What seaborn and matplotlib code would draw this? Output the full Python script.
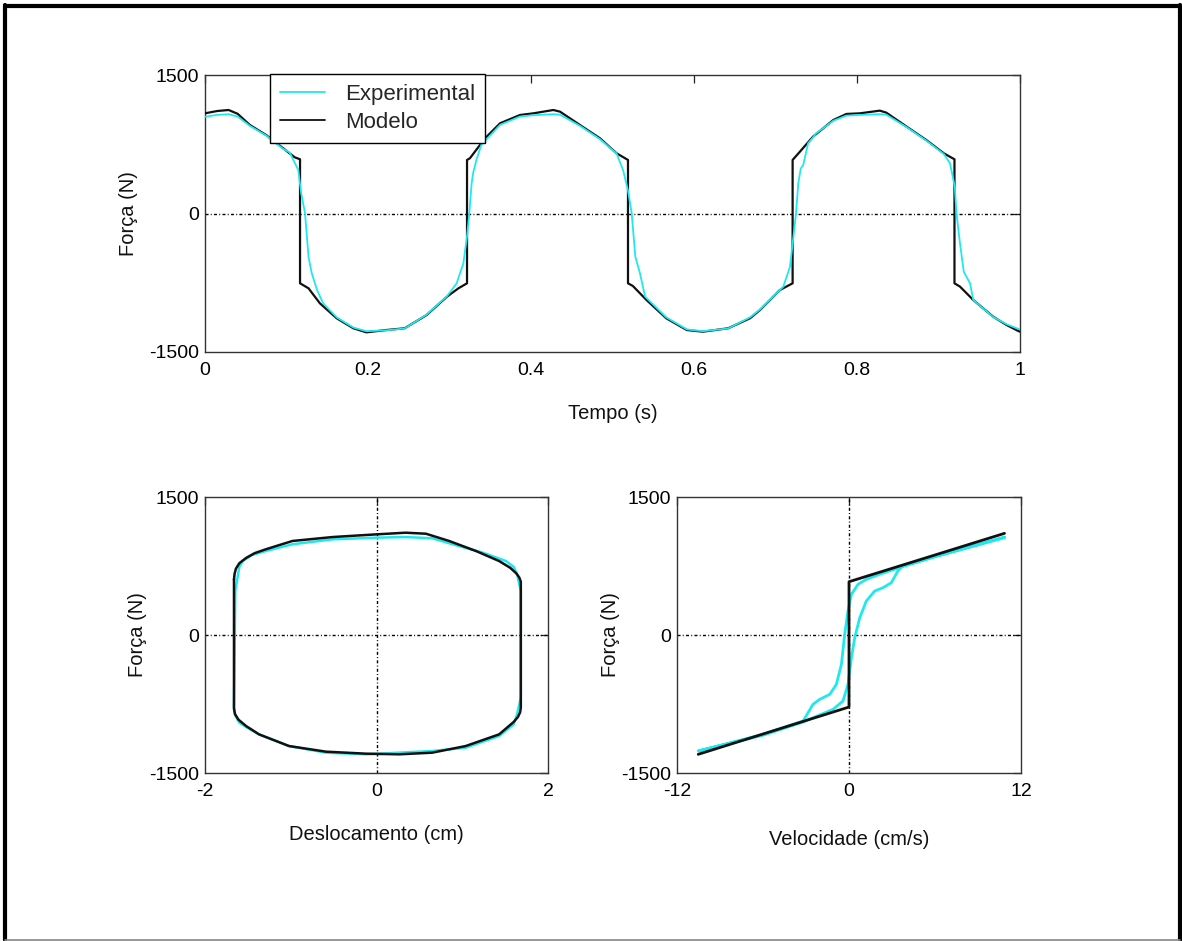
import numpy as np
import pandas as pd
import matplotlib
matplotlib.use("Agg")
import matplotlib.pyplot as plt
from matplotlib.lines import Line2D
import seaborn as sns

# ---------------- data ----------------
# Top: force vs time
t_model = [0.000, 0.015, 0.029, 0.040, 0.055, 0.075, 0.096, 0.110, 0.1166, 0.1166, 0.127, 0.141, 0.1616,
           0.182, 0.198, 0.2226, 0.245, 0.272, 0.297, 0.311, 0.3215, 0.3215, 0.325, 0.3374,
           0.3415, 0.362, 0.3865, 0.403, 0.4274, 0.4356, 0.460, 0.4847, 0.505, 0.519, 0.519,
           0.525, 0.5417, 0.566, 0.5911, 0.611, 0.642, 0.6687, 0.681, 0.7055, 0.721, 0.721,
           0.730, 0.746, 0.771, 0.787, 0.8037, 0.828, 0.836, 0.861, 0.885, 0.9065, 0.9196,
           0.9196, 0.9264, 0.9427, 0.967, 0.9836, 0.998, 1.000]
f_model = [1085, 1110, 1121, 1080, 959, 850, 706, 609, 587, -756, -810, -973, -1135,
           -1243, -1287, -1262, -1243, -1099, -900, -810, -756, 580, 598, 742,
           796, 977, 1067, 1085, 1121, 1103, 959, 814, 652, 580, -756,
           -785, -937, -1135, -1262, -1280, -1243, -1135, -1045, -828, -756, 580,
           670, 832, 1013, 1078, 1085, 1114, 1092, 940, 796, 652, 587,
           -756, -792, -937, -1117, -1208, -1273, -1280]

t_exp = [0.000, 0.015, 0.029, 0.040, 0.055, 0.075, 0.096, 0.104, 0.1145, 0.118, 0.1227, 0.127, 0.131,
         0.1375, 0.145, 0.1616, 0.182, 0.198, 0.2226, 0.245, 0.272, 0.297, 0.3088, 0.317,
         0.3215, 0.3243, 0.3272, 0.329, 0.333, 0.339, 0.362, 0.3865, 0.403, 0.4274, 0.4356,
         0.460, 0.4847, 0.505, 0.513, 0.519, 0.5235, 0.528, 0.5337, 0.540, 0.566, 0.5911,
         0.611, 0.642, 0.6687, 0.681, 0.7096, 0.7178, 0.722, 0.7252, 0.728, 0.731, 0.734,
         0.740, 0.750, 0.771, 0.787, 0.8037, 0.828, 0.836, 0.861, 0.885, 0.9065, 0.9141,
         0.920, 0.922, 0.9264, 0.931, 0.9387, 0.9427, 0.967, 0.9836, 0.998, 1.000]
f_exp = [1048, 1068, 1075, 1050, 950, 845, 700, 660, 470, 220, 5, -467, -648,
         -828, -973, -1125, -1235, -1275, -1265, -1245, -1095, -895, -756, -540,
         -250, 5, 330, 439, 579, 742, 960, 1050, 1065, 1075, 1070,
         950, 805, 650, 470, 250, 5, -467, -648, -900, -1125, -1255,
         -1275, -1245, -1125, -1040, -792, -576, -250, 5, 330, 488, 525,
         760, 868, 1005, 1060, 1068, 1075, 1070, 935, 790, 645, 543,
         290, 5, -325, -630, -756, -937, -1120, -1200, -1250, -1255]

# Bottom-left: force vs displacement loop
d_model = [-1.662, -1.655, -1.64, -1.60, -1.52, -1.42, -1.29, -0.98, -0.51, 0.0, 0.34, 0.576,
           0.847, 1.16, 1.43, 1.56, 1.63, 1.665, 1.683, 1.683, 1.675, 1.65, 1.60, 1.43,
           1.04, 0.65, 0.265, -0.12, -0.59, -1.02, -1.37, -1.52, -1.61, -1.65, -1.662, -1.662]
fd_model = [605, 665, 720, 780, 838, 890, 932, 1022, 1065, 1094, 1112, 1101,
            1022, 913, 804, 730, 670, 625, 580, -790, -840, -890, -945, -1080,
            -1207, -1279, -1297, -1290, -1268, -1207, -1080, -990, -920, -860, -800, 605]

d_exp = [-1.662, -1.647, -1.60, -1.56, -1.45, -1.29, -0.98, -0.51, 0.0, 0.34, 0.65, 0.96,
         1.24, 1.51, 1.60, 1.64, 1.683, 1.683, 1.64, 1.60, 1.43, 1.04, 0.65, 0.265,
         -0.12, -0.59, -1.02, -1.37, -1.52, -1.60, -1.65, -1.662, -1.662]
fd_exp = [-753, 478, 740, 804, 870, 913, 986, 1040, 1058, 1065, 1051, 967,
          895, 804, 740, 660, 478, -681, -860, -971, -1098, -1225, -1261, -1279,
          -1297, -1279, -1207, -1080, -1000, -953, -870, -790, -753]

# Bottom-right: force vs velocity
v_model = [-10.52, 0.0, 0.0, 10.85]
fv_model = [-1297, -783, 579, 1105]

v_exp = [10.85, 6.0, 3.76, 2.14, 1.21, 0.63, 0.17, -0.07, -0.3, -0.53, -0.88, -1.34,
         -2.04, -2.51, -3.2, -6.0, -10.52, -6.0, -3.2, -1.11, -0.42, -0.07, 0.17, 0.4,
         0.75, 1.21, 1.79, 2.37, 2.95, 3.41, 3.76, 6.0, 10.85]
fv_exp = [1058, 850, 745, 660, 605, 551, 442, 261, 7, -319, -536, -645,
          -699, -753, -935, -1080, -1261, -1090, -945, -808, -717, -536, -247, -29,
          188, 370, 478, 514, 568, 696, 750, 855, 1065]

# ---------------- style ----------------
sns.set_theme(style="white")
plt.rcParams["font.family"] = ["Liberation Sans", "DejaVu Sans"]
plt.rcParams.update({
    "axes.unicode_minus": False,
    "xtick.direction": "in", "ytick.direction": "in",
    "xtick.top": True, "ytick.right": True,
    "xtick.major.size": 5.5, "ytick.major.size": 5.5,
    "xtick.major.width": 0.9, "ytick.major.width": 0.9,
    "xtick.color": "#222222", "ytick.color": "#222222",
    "xtick.labelcolor": "black", "ytick.labelcolor": "black",
    "xtick.major.pad": 7, "ytick.major.pad": 4,
    "xtick.labelsize": 14, "ytick.labelsize": 14,
    "axes.labelsize": 14.5, "axes.labelcolor": "#111111",
    "axes.edgecolor": "#333333", "axes.linewidth": 1.0,
    "font.size": 14,
})

CYAN = "#1fe8f0"
BLACK = "#111111"
ZSTYLE = (0, (2.2, 1.6, 0.7, 1.6))

W, H = 1182, 941
fig = plt.figure(figsize=(W / 100, H / 100), dpi=100)
fig.patch.set_facecolor("white")

def box(x0, y0, x1, y1):
    return [x0 / W, 1 - y1 / H, (x1 - x0) / W, (y1 - y0) / H]

ax1 = fig.add_axes(box(205, 75, 1020, 352))
ax2 = fig.add_axes(box(205, 497, 548, 773))
ax3 = fig.add_axes(box(677, 497, 1021, 773))

df_top_m = pd.DataFrame({"t": t_model, "F": f_model})
df_top_e = pd.DataFrame({"t": t_exp, "F": f_exp})
sns.lineplot(data=df_top_m, x="t", y="F", sort=False, estimator=None, color=BLACK,
             lw=1.6, ax=ax1, zorder=3)
sns.lineplot(data=df_top_e, x="t", y="F", sort=False, estimator=None, color=CYAN,
             lw=1.3, ax=ax1, zorder=4)
ax1.axhline(0, color="black", lw=1.0, ls=ZSTYLE, zorder=1)
ax1.set_xlim(0, 1)
ax1.set_ylim(-1500, 1500)
ax1.set_xticks([0, 0.2, 0.4, 0.6, 0.8, 1])
ax1.set_xticklabels(["0", "0.2", "0.4", "0.6", "0.8", "1"])
ax1.set_yticks([-1500, 0, 1500])
ax1.set_xlabel("Tempo (s)", labelpad=18)
ax1.set_ylabel("Força (N)", labelpad=8)
handles = [Line2D([], [], color=CYAN, lw=1.3), Line2D([], [], color=BLACK, lw=1.3)]
leg = ax1.legend(handles, ["Experimental", "Modelo"], loc="upper left",
                 bbox_to_anchor=(0.080, 1.004), frameon=True, fancybox=False,
                 edgecolor="black", framealpha=1, borderpad=0.45, handlelength=2.0,
                 handletextpad=0.9, labelspacing=0.3, borderaxespad=0,
                 fontsize=16)
leg.get_frame().set_linewidth(1.0)
leg.set_zorder(10)

df_d_m = pd.DataFrame({"d": d_model, "F": fd_model})
df_d_e = pd.DataFrame({"d": d_exp, "F": fd_exp})
sns.lineplot(data=df_d_e, x="d", y="F", sort=False, estimator=None, color=CYAN,
             lw=1.8, ax=ax2, zorder=3)
sns.lineplot(data=df_d_m, x="d", y="F", sort=False, estimator=None, color=BLACK,
             lw=1.8, ax=ax2, zorder=4)
ax2.axhline(0, color="black", lw=1.0, ls=ZSTYLE, zorder=1)
ax2.axvline(0, color="black", lw=1.0, ls=ZSTYLE, zorder=1)
ax2.set_xlim(-2, 2)
ax2.set_ylim(-1500, 1500)
ax2.set_xticks([-2, 0, 2])
ax2.set_yticks([-1500, 0, 1500])
ax2.set_xlabel("Deslocamento (cm)", labelpad=18)
ax2.set_ylabel("Força (N)", labelpad=2)

df_v_m = pd.DataFrame({"v": v_model, "F": fv_model})
df_v_e = pd.DataFrame({"v": v_exp, "F": fv_exp})
sns.lineplot(data=df_v_e, x="v", y="F", sort=False, estimator=None, color=CYAN,
             lw=2.0, ax=ax3, zorder=3)
sns.lineplot(data=df_v_m, x="v", y="F", sort=False, estimator=None, color=BLACK,
             lw=2.0, ax=ax3, zorder=4)
ax3.axhline(0, color="black", lw=1.0, ls=ZSTYLE, zorder=1)
ax3.axvline(0, color="black", lw=1.0, ls=ZSTYLE, zorder=1)
ax3.set_xlim(-12, 12)
ax3.set_ylim(-1500, 1500)
ax3.set_xticks([-12, 0, 12])
ax3.set_yticks([-1500, 0, 1500])
ax3.set_xlabel("Velocidade (cm/s)", labelpad=22)
ax3.set_ylabel("Força (N)", labelpad=1)

for ax in (ax1, ax2, ax3):
    for s in ax.spines.values():
        s.set_visible(True)

# outer frame of the figure
fig.add_artist(Line2D([5 / W, 5 / W], [1 - 5 / H, 1 - 940 / H], color="black", lw=3,
                      transform=fig.transFigure))
fig.add_artist(Line2D([5 / W, 1180 / W], [1 - 6 / H, 1 - 6 / H], color="black", lw=3,
                      transform=fig.transFigure))
fig.add_artist(Line2D([1180 / W, 1180 / W], [1 - 5 / H, 1 - 940 / H], color="black", lw=3,
                      transform=fig.transFigure))
fig.add_artist(Line2D([5 / W, 1180 / W], [1 - 939.5 / H, 1 - 939.5 / H], color="#888888",
                      lw=1.2, transform=fig.transFigure))

fig.savefig("out.png", dpi=100, facecolor="white")
